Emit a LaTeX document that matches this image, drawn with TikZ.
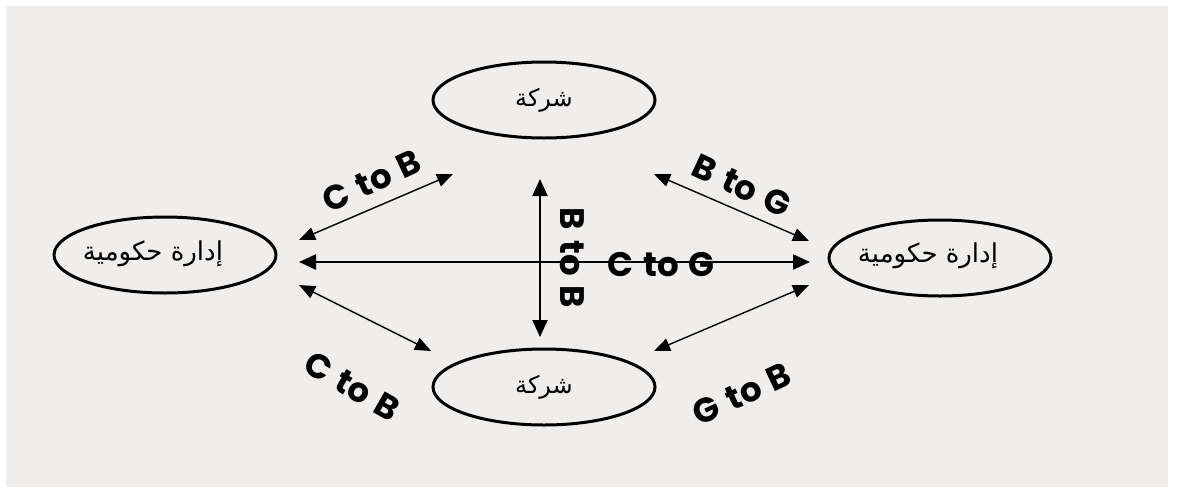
\documentclass[tikz,border=0pt]{standalone}
\usepackage{fontspec}
\usetikzlibrary{arrows.meta,shapes.geometric}
\TeXXeTstate=1
\newfontfamily\arabicfont[Script=Arabic]{DejaVu Sans}
\newfontfamily\labfont{Poppins}[WordSpace=1.4]
\definecolor{bg}{HTML}{EFEEED}
\tikzset{
  oval/.style={ellipse,draw=black,line width=3pt,minimum width=222pt,minimum height=76pt,inner sep=0pt,
    font=\arabicfont\fontsize{24}{26}\selectfont},
  arab/.style={font=\arabicfont\fontsize{26}{28}\selectfont,inner sep=0pt},
  thickarr/.style={line width=2.2pt,{Triangle[length=17pt,width=15pt]}-{Triangle[length=17pt,width=15pt]}},
  thinarr/.style={line width=1.4pt,{Triangle[length=16pt,width=13pt]}-{Triangle[length=16pt,width=13pt]}},
  lab/.style={font=\labfont\bfseries\fontsize{34}{36}\selectfont,inner sep=0pt}
}
\begin{document}
\begin{tikzpicture}[x=1pt,y=-1pt]
\useasboundingbox (0,0) rectangle (1178,491);
\fill[white] (0,0) rectangle (1178,491);
\fill[bg] (6,6) rectangle (1168,487);
\node[oval] (top) at (544,100) {\beginR شركة\endR};
\node[oval] (bot) at (544,387) {\beginR شركة\endR};
\node[oval] (left) at (165,255) {};
\node[oval] (right) at (940,258) {};
\node[arab] (lefttxt) at (153,254) {\beginR إدارة حكومية\endR};
\node[arab] (righttxt) at (928,256) {\beginR إدارة حكومية\endR};
\coordinate (hl) at (299,262);
\coordinate (hr) at (810,262);
\coordinate (vt) at (540,179);
\coordinate (vb) at (540,337);
\coordinate (tl1) at (299,240);
\coordinate (tl2) at (453,174);
\coordinate (tr1) at (654,174);
\coordinate (tr2) at (809,241);
\coordinate (bl1) at (299,285);
\coordinate (bl2) at (431,351);
\coordinate (br1) at (654,351);
\coordinate (br2) at (809,285);
\draw[thickarr] (hl) -- (hr);
\draw[thickarr] (vt) -- (vb);
\draw[thinarr] (tl1) -- (tl2);
\draw[thinarr] (tr1) -- (tr2);
\draw[thinarr] (bl1) -- (bl2);
\draw[thinarr] (br1) -- (br2);
\node[lab,rotate=25] (lcb1) at (372,181) {C to B};
\node[lab,rotate=-25] (lbg) at (742,186) {B to G};
\node[lab,rotate=-90] (lbb) at (572,258) {B to B};
\node[lab] (lcg) at (661,265) {C to G};
\node[lab,rotate=-30] (lcb2) at (352,386) {C to B};
\node[lab,rotate=25] (lgb) at (742,394) {G to B};
\end{tikzpicture}
\end{document}
